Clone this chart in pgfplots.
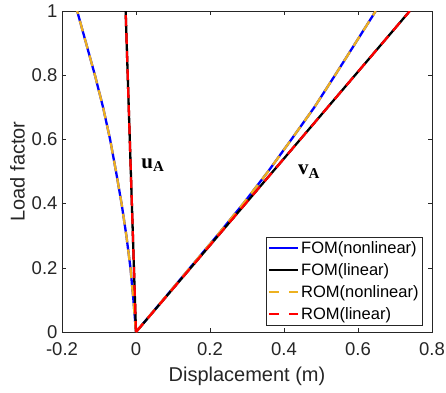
\documentclass[border=0pt]{standalone}
\usepackage{fontspec}
\setmainfont{Liberation Sans}
\newfontfamily\seriffont{Liberation Serif}
\usepackage{pgfplots}
\pgfplotsset{compat=1.18}
\definecolor{mblue}{rgb}{0,0,1}
\definecolor{morange}{rgb}{0.929,0.694,0.125}
\definecolor{mred}{rgb}{1,0,0}
\definecolor{axgray}{rgb}{0.15,0.15,0.15}
\begin{document}
\begin{tikzpicture}
\useasboundingbox (-62pt,-60pt) rectangle (384pt,332pt);
\begin{axis}[
  at={(0,0)}, anchor=south west, scale only axis,
  width=370pt, height=321pt,
  xmin=-0.2, xmax=0.8, ymin=0, ymax=1,
  xtick={-0.2,0,0.2,0.4,0.6,0.8},
  ytick={0,0.2,0.4,0.6,0.8,1},
  tick align=inside, xtick pos=both, ytick pos=both,
  major tick length=4pt,
  axis line style={axgray, line width=0.6pt},
  tick style={axgray, line width=0.6pt},
  /pgf/number format/assume math mode=true,
  ticklabel style={font=\fontsize{18.5}{20}\selectfont, text=axgray},
  xticklabel style={yshift=-7.5pt},
  yticklabel style={xshift=-1pt},
  xlabel={Displacement (m)}, ylabel={Load factor},
  xlabel style={yshift=-4pt},
  label style={font=\fontsize{20}{22}\selectfont, text=axgray},
  legend style={at={(rel axis cs:0.975,0.022)}, anchor=south east,
    draw=axgray, fill=white, font=\fontsize{16.5}{17}\selectfont,
    inner sep=2pt, row sep=4.5pt},
  legend cell align=left,
  legend image code/.code={\draw[#1] (0pt,0pt) -- (29pt,0pt);},
]
% FOM nonlinear
\addplot[mblue, line width=2.3pt] coordinates {
(0,0) (-0.007,0.1) (-0.015,0.2) (-0.026,0.3) (-0.039,0.4) (-0.054,0.5)
(-0.070,0.6) (-0.089,0.7) (-0.111,0.8) (-0.135,0.9) (-0.159,1.0)};
\addlegendentry{FOM(nonlinear)}
\addplot[mblue, line width=2.3pt, forget plot] coordinates {
(0,0) (0.073,0.1) (0.146,0.2) (0.219,0.3) (0.290,0.4) (0.357,0.5)
(0.420,0.6) (0.482,0.7) (0.538,0.8) (0.593,0.9) (0.648,1.0)};
% FOM linear
\addplot[black, line width=2.3pt] coordinates {(0,0) (-0.028,1)};
\addlegendentry{FOM(linear)}
\addplot[black, line width=2.3pt, forget plot] coordinates {(0,0) (0.74,1)};
% ROM nonlinear
\addplot[morange, line width=2.3pt, dash pattern=on 11pt off 7pt,
  legend image code/.code={\draw[morange, line width=2.3pt, dash pattern=on 10pt off 10pt] (0pt,0pt) -- (29pt,0pt);}] coordinates {
(0,0) (-0.007,0.1) (-0.015,0.2) (-0.026,0.3) (-0.039,0.4) (-0.054,0.5)
(-0.070,0.6) (-0.089,0.7) (-0.111,0.8) (-0.135,0.9) (-0.159,1.0)};
\addlegendentry{ROM(nonlinear)}
\addplot[morange, line width=2.3pt, dash pattern=on 11pt off 7pt, forget plot] coordinates {
(0,0) (0.073,0.1) (0.146,0.2) (0.219,0.3) (0.290,0.4) (0.357,0.5)
(0.420,0.6) (0.482,0.7) (0.538,0.8) (0.593,0.9) (0.648,1.0)};
% ROM linear
\addplot[mred, line width=2.3pt, dash pattern=on 11pt off 7pt,
  legend image code/.code={\draw[mred, line width=2.3pt, dash pattern=on 10pt off 10pt] (0pt,0pt) -- (29pt,0pt);}] coordinates {(0,0) (-0.028,1)};
\addlegendentry{ROM(linear)}
\addplot[mred, line width=2.3pt, dash pattern=on 11pt off 7pt, forget plot] coordinates {(0,0) (0.74,1)};
\node[font=\seriffont\bfseries\fontsize{21}{21}\selectfont, text=black] at (axis cs:0.045,0.52) {u\raisebox{-0.35ex}{\fontsize{15}{15}\selectfont A}};
\node[font=\seriffont\bfseries\fontsize{21}{21}\selectfont, text=black] at (axis cs:0.467,0.50) {v\raisebox{-0.35ex}{\fontsize{15}{15}\selectfont A}};
\end{axis}
\end{tikzpicture}
\end{document}
